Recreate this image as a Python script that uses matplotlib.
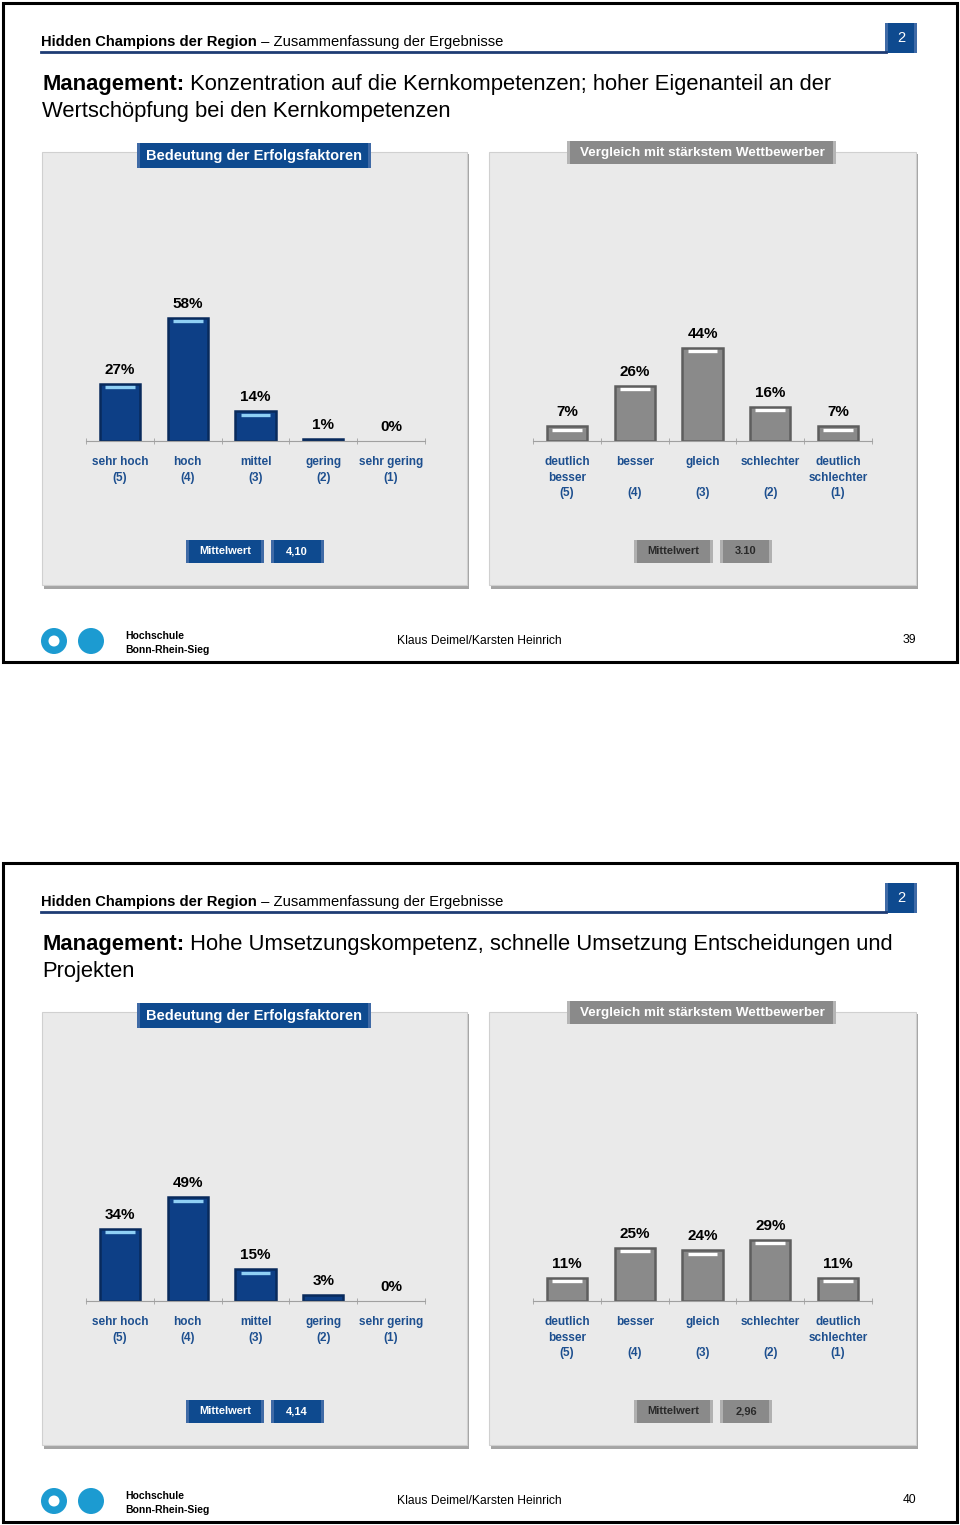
import matplotlib
matplotlib.use("Agg")
import matplotlib.pyplot as plt
from matplotlib.patches import Rectangle, Circle

plt.rcParams["font.family"] = ["Liberation Sans", "DejaVu Sans"]

## DATEN
cat_bedeutung = ["sehr hoch\n(5)", "hoch\n(4)", "mittel\n(3)", "gering\n(2)", "sehr gering\n(1)"]
cat_vergleich = ["deutlich\nbesser\n(5)", "besser\n\n(4)", "gleich\n\n(3)",
                 "schlechter\n\n(2)", "deutlich\nschlechter\n(1)"]

bedeutung_39 = [27, 58, 14, 1, 0]
vergleich_39 = [7, 26, 44, 16, 7]
bedeutung_40 = [34, 49, 15, 3, 0]
vergleich_40 = [11, 25, 24, 29, 11]

mittel_bedeutung = ["4,10", "4,14"]
mittel_vergleich = ["3.10", "2,96"]

titel_1 = ["Konzentration auf die Kernkompetenzen; hoher Eigenanteil an der",
           "Wertschöpfung bei den Kernkompetenzen"]
titel_2 = ["Hohe Umsetzungskompetenz, schnelle Umsetzung Entscheidungen und",
           "Projekten"]
seiten = ["39", "40"]

W, H = 960, 1525
BLUE = "#0E4A8F"
NAVY = "#0D3F86"
GRAY = "#8A8A8A"
LABEL_BLUE = "#1D4F8F"
BASE = 441        # Pixelzeile der Grundlinie
PX_PER = 2.12     # Pixel pro Prozentpunkt
YMAX = 70

fig = plt.figure(figsize=(W / 100, H / 100), dpi=100)
bg = fig.add_axes([0, 0, 1, 1])
bg.set_xlim(0, W)
bg.set_ylim(H, 0)
bg.axis("off")


def px_ax(x0, y0, x1, y1):
    return [x0 / W, 1 - y1 / H, (x1 - x0) / W, (y1 - y0) / H]


def bar_chart(x0, x1, dy, values, labels, face, edge, hi):
    ax = fig.add_axes(px_ax(x0, BASE + dy - YMAX * PX_PER, x1, BASE + dy))
    ax.patch.set_visible(False)
    pos = list(range(len(values)))
    ax.bar(pos, values, width=0.59, color=face, edgecolor=edge,
           linewidth=[1.8 if v else 0 for v in values])
    for p, v in zip(pos, values):
        if v >= 5:
            ax.hlines(v - 1.6, p - 0.22, p + 0.22, color=hi, lw=2.4)
        ax.annotate(f"{v}%", (p, v), xytext=(0, 5), textcoords="offset points",
                    ha="center", va="bottom", fontsize=11, fontweight="bold")
    ax.set_xlim(-0.5, len(values) - 0.5)
    ax.set_ylim(0, YMAX)
    for s in ["left", "right", "top"]:
        ax.spines[s].set_visible(False)
    ax.spines["bottom"].set_color("#A0A0A0")
    ax.set_yticks([])
    ax.set_xticks(pos)
    ax.set_xticklabels(labels, fontsize=8.5, fontweight="bold", color=LABEL_BLUE,
                       linespacing=1.4)
    ax.tick_params(axis="x", which="major", length=0, pad=11)
    ax.set_xticks([p - 0.5 for p in pos] + [pos[-1] + 0.5], minor=True)
    ax.tick_params(axis="x", which="minor", length=4, direction="inout", color="#A0A0A0")
    return ax


def box(x, y, w, h, color, edge_light):
    bg.add_patch(Rectangle((x, y), w, h, fc=color, ec="none"))
    bg.add_patch(Rectangle((x, y), 3, h, fc=edge_light, ec="none"))
    bg.add_patch(Rectangle((x + w - 3, y), 3, h, fc=edge_light, ec="none"))


def draw_slide(dy, titel, bed, vgl, m_bed, m_vgl, seite):
    # Rahmen
    bg.add_patch(Rectangle((3, dy + 3), 954, 659, fc="none", ec="black", lw=2.2))

    # Kopfzeile
    t = bg.text(41, dy + 49, "Hidden Champions der Region", fontsize=10.6,
                fontweight="bold", va="bottom")
    bg.annotate(" \u2013 Zusammenfassung der Ergebnisse", xy=(1, 0), xycoords=t,
                va="bottom", fontsize=10.6)
    bg.plot([41, 886], [dy + 52, dy + 52], color="#1E3C74", lw=2)
    box(885, dy + 23, 32, 30, BLUE, "#3F6AA6")
    bg.text(901, dy + 38, "2", color="white", fontsize=10.5, ha="center", va="center")

    # Titel
    t = bg.text(42, dy + 95, "Management:", fontsize=15.8, fontweight="bold", va="bottom")
    bg.annotate(" " + titel[0], xy=(1, 0), xycoords=t, va="bottom", fontsize=15.8)
    bg.text(42, dy + 122, titel[1], fontsize=15.8, va="bottom")

    # Panels
    for px0, px1 in [(42, 467), (489, 916)]:
        bg.add_patch(Rectangle((px0 + 2, dy + 154), px1 - px0, 435, fc="#A5A5A5", ec="none"))
        bg.add_patch(Rectangle((px0, dy + 152), px1 - px0, 433, fc="#EAEAEA",
                               ec="#D0D0D0", lw=0.8))

    box(137, dy + 143, 234, 25, BLUE, "#3F6AA6")
    bg.text(254, dy + 156, "Bedeutung der Erfolgsfaktoren", color="white",
            fontsize=10.5, fontweight="bold", ha="center", va="center")
    box(567, dy + 141, 269, 23, GRAY, "#B5B5B5")
    bg.text(702, dy + 153, "Vergleich mit stärkstem Wettbewerber", color="white",
            fontsize=9.7, fontweight="bold", ha="center", va="center")

    bar_chart(86, 425, dy, bed, cat_bedeutung, NAVY, "#082A5C", "#8FD0F5")
    bar_chart(533, 872, dy, vgl, cat_vergleich, GRAY, "#5E5E5E", "#FFFFFF")

    # Mittelwerte
    box(186, dy + 540, 78, 23, BLUE, "#3F6AA6")
    box(271, dy + 540, 53, 23, BLUE, "#3F6AA6")
    bg.text(225, dy + 551.5, "Mittelwert", color="white", fontsize=8,
            fontweight="bold", ha="center", va="center")
    bg.text(297, dy + 551.5, m_bed, color="white", fontsize=8,
            fontweight="bold", ha="center", va="center")
    box(634, dy + 540, 79, 23, GRAY, "#B0B0B0")
    box(720, dy + 540, 52, 23, GRAY, "#B0B0B0")
    bg.text(673, dy + 551.5, "Mittelwert", color="#2A2A2A", fontsize=8,
            fontweight="bold", ha="center", va="center")
    bg.text(746, dy + 551.5, m_vgl, color="#2A2A2A", fontsize=8,
            fontweight="bold", ha="center", va="center")

    # Fusszeile
    bg.add_patch(Circle((54, dy + 641), 13, fc="#1C9BD1", ec="none"))
    bg.add_patch(Circle((54, dy + 641), 5.5, fc="white", ec="none"))
    bg.add_patch(Circle((91, dy + 641), 13, fc="#1C9BD1", ec="none"))
    bg.text(125, dy + 636, "Hochschule", fontsize=7.5, fontweight="bold", va="center")
    bg.text(125, dy + 650, "Bonn-Rhein-Sieg", fontsize=7.5, fontweight="bold", va="center")
    bg.text(397, dy + 641, "Klaus Deimel/Karsten Heinrich", fontsize=8.7, va="center")
    bg.text(916, dy + 640, seite, fontsize=8.7, va="center", ha="right")


draw_slide(0, titel_1, bedeutung_39, vergleich_39,
           mittel_bedeutung[0], mittel_vergleich[0], seiten[0])
draw_slide(860, titel_2, bedeutung_40, vergleich_40,
           mittel_bedeutung[1], mittel_vergleich[1], seiten[1])

fig.savefig("out.png", dpi=100)
